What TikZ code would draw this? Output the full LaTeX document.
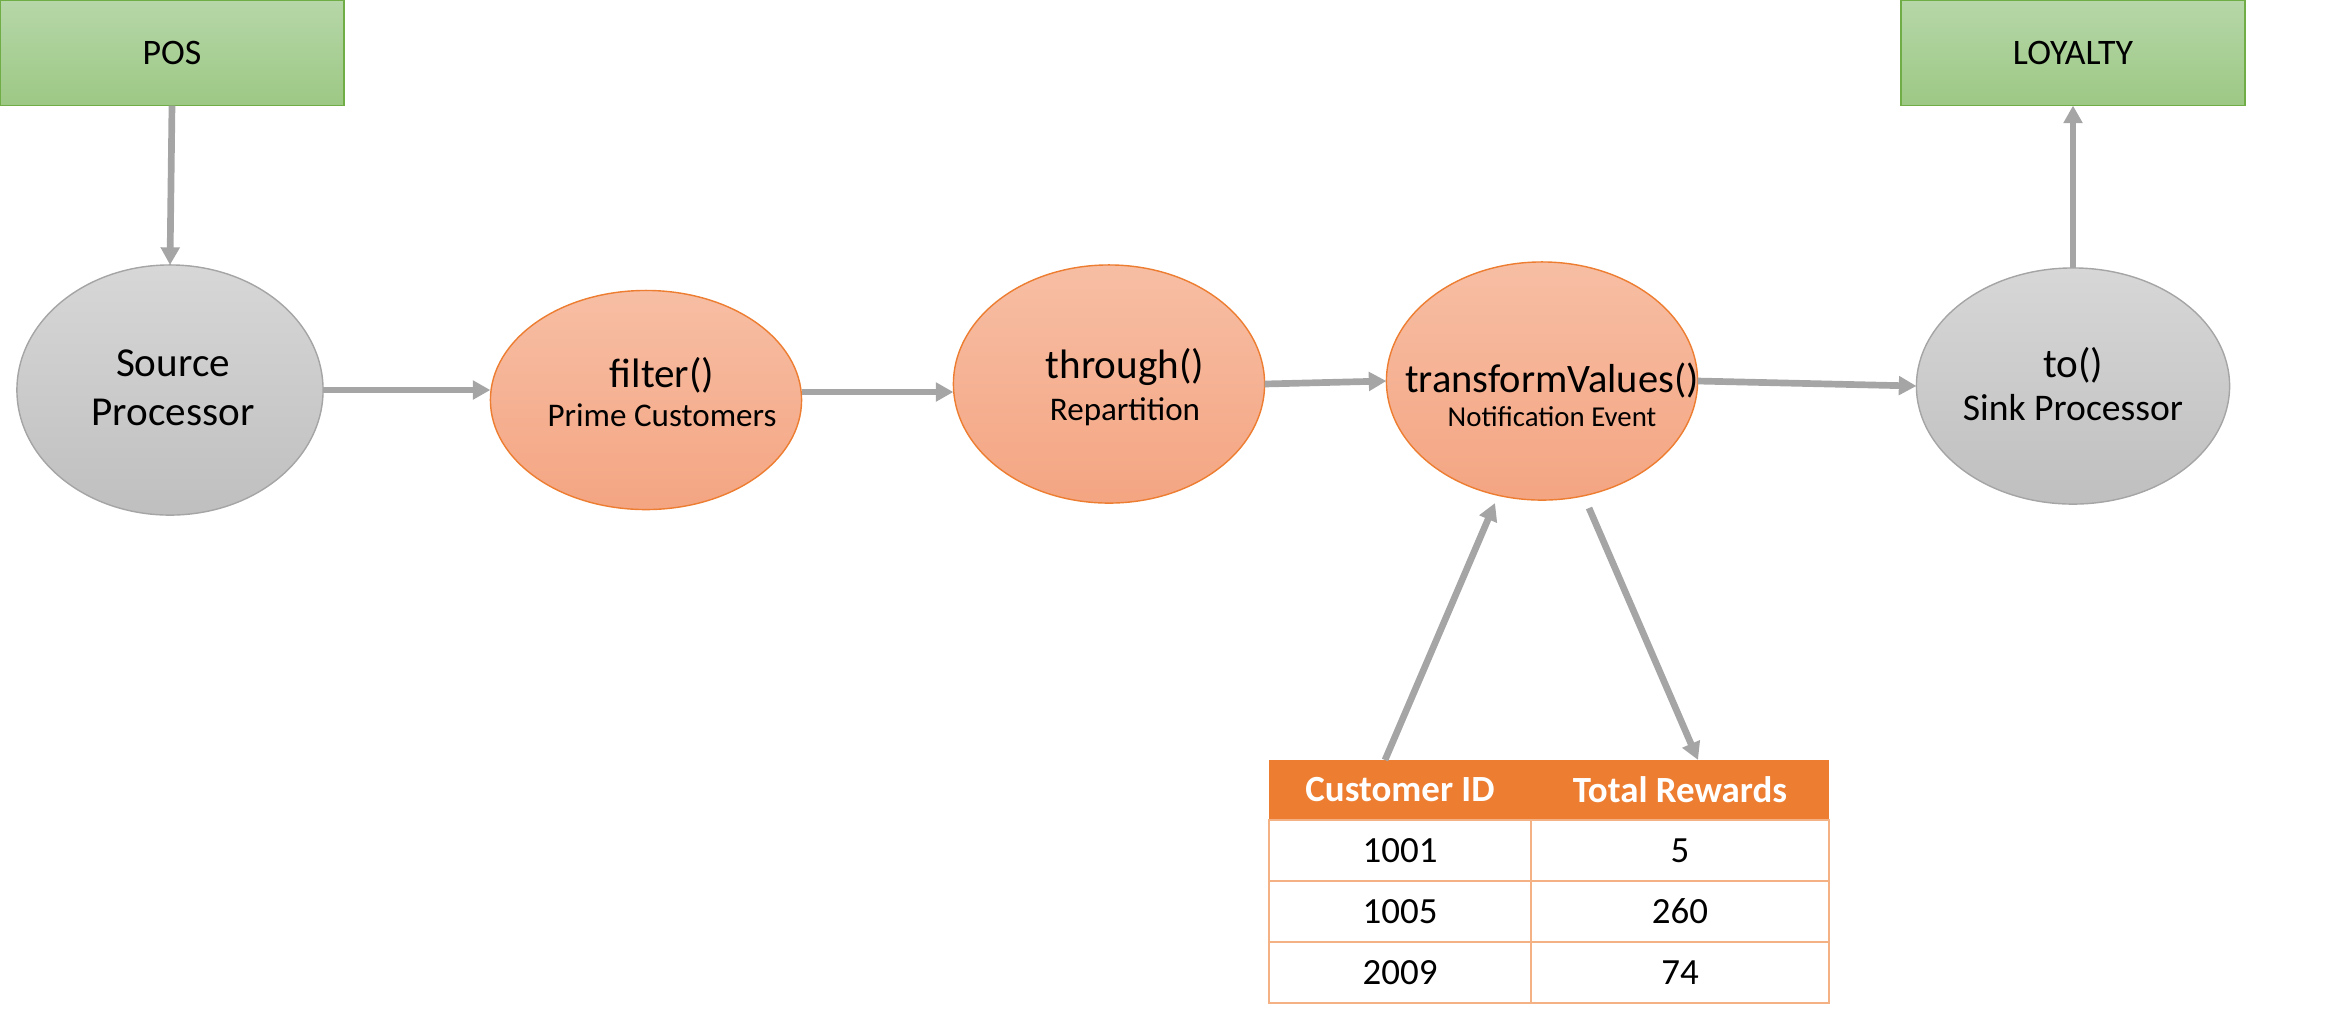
\documentclass[tikz,border=0pt]{standalone}
\usepackage{fontspec}
\setmainfont{Carlito}
\usetikzlibrary{shapes.geometric,arrows.meta}

\definecolor{flowgray}{HTML}{A5A5A5}
\definecolor{systop}{HTML}{B6D7A8}
\definecolor{sysbot}{HTML}{9CC884}
\definecolor{sysline}{HTML}{70AD47}
\definecolor{proctop}{HTML}{F7BEA4}
\definecolor{procbot}{HTML}{F4A582}
\definecolor{procline}{HTML}{ED7D31}
\definecolor{endtop}{HTML}{D7D7D7}
\definecolor{endbot}{HTML}{BFBFBF}
\definecolor{tablehead}{HTML}{ED7D31}
\definecolor{tableline}{HTML}{F4B183}

\newcommand{\bigtxt}{\fontsize{11.7}{14}\selectfont}
\newcommand{\smalltxt}{\fontsize{9.4}{12}\selectfont}

\begin{document}
\begin{tikzpicture}[x=0.01cm,y=-0.01cm]
\tikzstyle{every node}=[inner sep=0pt,outer sep=0pt];
\tikzstyle{sys}=[rectangle,draw=sysline,top color=systop,bottom color=sysbot,minimum width=3.44cm,minimum height=1.05cm,font=\fontsize{10.2}{12}\selectfont];
\tikzstyle{proc}=[ellipse,draw=procline,top color=proctop,bottom color=procbot,minimum width=3.11cm,minimum height=2.38cm];
\tikzstyle{ends}=[ellipse,draw=flowgray,top color=endtop,bottom color=endbot,minimum width=3.1cm,minimum height=2.4cm];
\tikzstyle{optext}=[align=center];
\tikzstyle{flow}=[draw=flowgray,line width=1.9pt,-{Triangle[length=5pt,width=5.2pt]}];
\tikzstyle{headcell}=[text=white,font=\fontsize{10.5}{12}\selectfont\bfseries];
\tikzstyle{cell}=[font=\fontsize{10.5}{12}\selectfont];

\useasboundingbox (0,0) rectangle (2333,1017);

% systems
\node[sys] (pos) at (172,53) {POS};
\node[sys] (loyalty) at (2073,53) {LOYALTY};

% processors
\node[ends,minimum width=3.06cm,minimum height=2.5cm] (source) at (170,390) {};
\node[optext,font=\bigtxt] (sourceT) at (173,388) {Source\\Processor};

\node[proc,minimum height=2.19cm] (filter) at (646,400) {};
\node[optext] (filterT) at (662,392) {{\bigtxt filter()}\\[-1pt]{\smalltxt Prime Customers}};

\node[proc] (through) at (1109,384) {};
\node[optext] (throughT) at (1125,387) {{\bigtxt through()}\\[0pt]{\smalltxt Repartition}};

\node[proc] (transform) at (1542,381) {};
\node[optext] (transformT) at (1552,395) {{\fontsize{11.5}{14}\selectfont transformValues()}\\[-2.5pt]{\fontsize{8.2}{10}\selectfont Notification Event}};

\node[ends,minimum width=3.13cm,minimum height=2.36cm] (sink) at (2073,386) {};
\node[optext] (sinkT) at (2073,384) {{\bigtxt to()}\\[0pt]{\fontsize{10.7}{12}\selectfont Sink Processor}};

% rewards table
\fill[tablehead] (1269,760) rectangle (1829,820);
\draw[tableline,line width=0.6pt] (1269,820) rectangle (1829,1003);
\draw[tableline,line width=0.6pt] (1531,820) -- (1531,1003);
\foreach \y in {881,942}
  \draw[tableline,line width=0.6pt] (1269,\y) -- (1829,\y);
\node[headcell] (hid) at (1400,790) {Customer ID};
\node[headcell] (hpts) at (1680,790) {Total Rewards};
\foreach \id/\pts [count=\r] in {1001/5,1005/260,2009/74} {
  \node[cell] (id\r) at (1400,{789.5+61*\r}) {\id};
  \node[cell] (pts\r) at (1680,{789.5+61*\r}) {\pts};
}

\coordinate (tabin) at (1385,760);
\coordinate (tvin) at (1495,503);
\coordinate (tvout) at (1589,508);
\coordinate (tabout) at (1698,760);

% flows
\draw[flow] (pos.south) -- (source.north);
\draw[flow] (source.east) -- (source.east -| filter.west);
\draw[flow] (filter.east |- 0,392) -- (through.west |- 0,392);
\draw[flow] (through.east) -- (transform.west);
\draw[flow] (transform.east) -- (sink.west);
\draw[flow] (sink.north) -- (loyalty.south);
\draw[flow] (tabin) -- (tvin);
\draw[flow] (tvout) -- (tabout);
\end{tikzpicture}
\end{document}
